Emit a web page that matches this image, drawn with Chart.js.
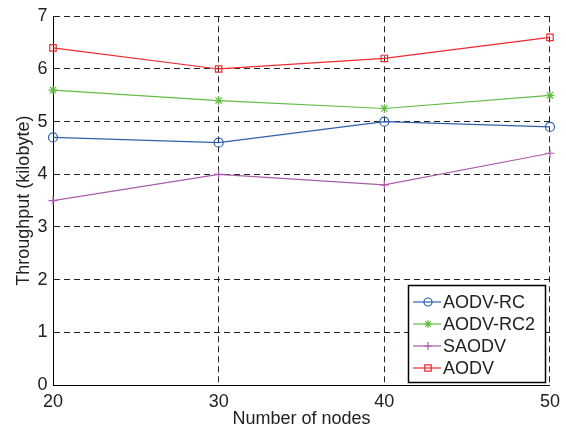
<!DOCTYPE html>
<html lang="en">
<head>
    <meta charset="UTF-8">
    <title>Throughput vs Number of nodes</title>
    <script src="https://cdn.jsdelivr.net/npm/chart.js"></script>
    <style>
        html, body { margin: 0; padding: 0; background: #fff; }
        #wrap { width: 566px; height: 430px; }
    </style>
</head>
<body>
    <div id="wrap"><canvas id="thrChart" width="566" height="430"></canvas></div>

    <script>
        // data
        const nodes = [20, 30, 40, 50];
        const aodvRc = [4.7, 4.6, 5.0, 4.9];
        const aodvRc2 = [5.6, 5.4, 5.25, 5.5];
        const saodv = [3.5, 4.0, 3.8, 4.4];
        const aodv = [6.4, 6.0, 6.2, 6.6];
        const xTicks = [20, 30, 40, 50];
        const yTicks = [0, 1, 2, 3, 4, 5, 6, 7];

        const FONT = 'Liberation Sans, Arial, Helvetica, sans-serif';

        function series(label, values, color, style) {
            return {
                label: label,
                data: nodes.map((n, i) => ({ x: n, y: values[i] })),
                borderColor: color,
                backgroundColor: 'transparent',
                borderWidth: 1.2,
                pointStyle: style,
                pointRadius: 4.5,
                pointBorderColor: color,
                pointBackgroundColor: 'transparent',
                pointBorderWidth: 1.2,
                tension: 0,
                clip: false
            };
        }

        function drawMarker(ctx, style, x, y, r) {
            ctx.beginPath();
            if (style === 'circle') {
                ctx.arc(x, y, r, 0, Math.PI * 2);
            } else if (style === 'rect') {
                ctx.rect(x - r * 0.8, y - r * 0.8, r * 1.6, r * 1.6);
            } else if (style === 'cross') {
                ctx.moveTo(x - r, y); ctx.lineTo(x + r, y);
                ctx.moveTo(x, y - r); ctx.lineTo(x, y + r);
            } else if (style === 'star') {
                ctx.moveTo(x - r, y); ctx.lineTo(x + r, y);
                ctx.moveTo(x, y - r); ctx.lineTo(x, y + r);
                const d = r * 0.7;
                ctx.moveTo(x - d, y - d); ctx.lineTo(x + d, y + d);
                ctx.moveTo(x - d, y + d); ctx.lineTo(x + d, y - d);
            }
            ctx.stroke();
        }

        // MATLAB-like legend box in the lower right corner
        const boxLegend = {
            id: 'boxLegend',
            afterDraw(chart) {
                const ctx = chart.ctx;
                const bx = 408, by = 285, bw = 137, bh = 97;
                ctx.save();
                ctx.setLineDash([]);
                ctx.fillStyle = '#fff';
                ctx.fillRect(bx, by, bw, bh);
                ctx.strokeStyle = '#000';
                ctx.lineWidth = 1.5;
                ctx.strokeRect(bx + 0.5, by + 0.5, bw, bh);

                ctx.font = '18px ' + FONT;
                ctx.textBaseline = 'middle';
                chart.data.datasets.forEach((ds, i) => {
                    const cy = by + 17 + i * 22;
                    ctx.strokeStyle = ds.borderColor;
                    ctx.lineWidth = 1.2;
                    ctx.beginPath();
                    ctx.moveTo(bx + 5, cy);
                    ctx.lineTo(bx + 33, cy);
                    ctx.stroke();
                    drawMarker(ctx, ds.pointStyle, bx + 20, cy, 4);
                    ctx.fillStyle = '#222';
                    ctx.fillText(ds.label, bx + 35, cy + 1);
                });
                ctx.restore();
            }
        };

        new Chart(document.getElementById('thrChart'), {
            type: 'line',
            data: {
                datasets: [
                    series('AODV-RC', aodvRc, '#2f5fae', 'circle'),
                    series('AODV-RC2', aodvRc2, '#66bb44', 'star'),
                    series('SAODV', saodv, '#a95daa', 'cross'),
                    series('AODV', aodv, '#ee2a2f', 'rect')
                ]
            },
            options: {
                responsive: false,
                animation: false,
                layout: { padding: { top: 16, right: 15, left: 0, bottom: 0 } },
                plugins: {
                    legend: { display: false },
                    tooltip: { enabled: false }
                },
                scales: {
                    x: {
                        type: 'linear',
                        min: 20,
                        max: 50,
                        afterBuildTicks: (s) => { s.ticks = xTicks.map(v => ({ value: v })); },
                        afterFit: (s) => { s.height = 45; },
                        ticks: {
                            color: '#222',
                            font: { family: FONT, size: 18 },
                            padding: 6,
                            maxRotation: 0
                        },
                        grid: { color: '#222', lineWidth: 1, drawTicks: false },
                        border: { color: '#000', width: 1, dash: [6, 4] },
                        title: {
                            display: true,
                            text: 'Number of nodes',
                            color: '#222',
                            font: { family: FONT, size: 18, lineHeight: 1.2 },
                            padding: { top: 0, bottom: 0 }
                        }
                    },
                    y: {
                        min: 0,
                        max: 7,
                        afterBuildTicks: (s) => { s.ticks = yTicks.map(v => ({ value: v })); },
                        afterFit: (s) => { s.width = 53; },
                        ticks: {
                            color: '#222',
                            font: { family: FONT, size: 18 },
                            padding: 5.5
                        },
                        grid: { color: '#222', lineWidth: 1, drawTicks: false },
                        border: { color: '#000', width: 1, dash: [6, 4] },
                        title: {
                            display: true,
                            text: 'Throughput (kilobyte)',
                            color: '#222',
                            font: { family: FONT, size: 18, lineHeight: 1.2 },
                            padding: { top: 13, bottom: 0 }
                        }
                    }
                }
            },
            plugins: [boxLegend]
        });
    </script>
</body>
</html>
